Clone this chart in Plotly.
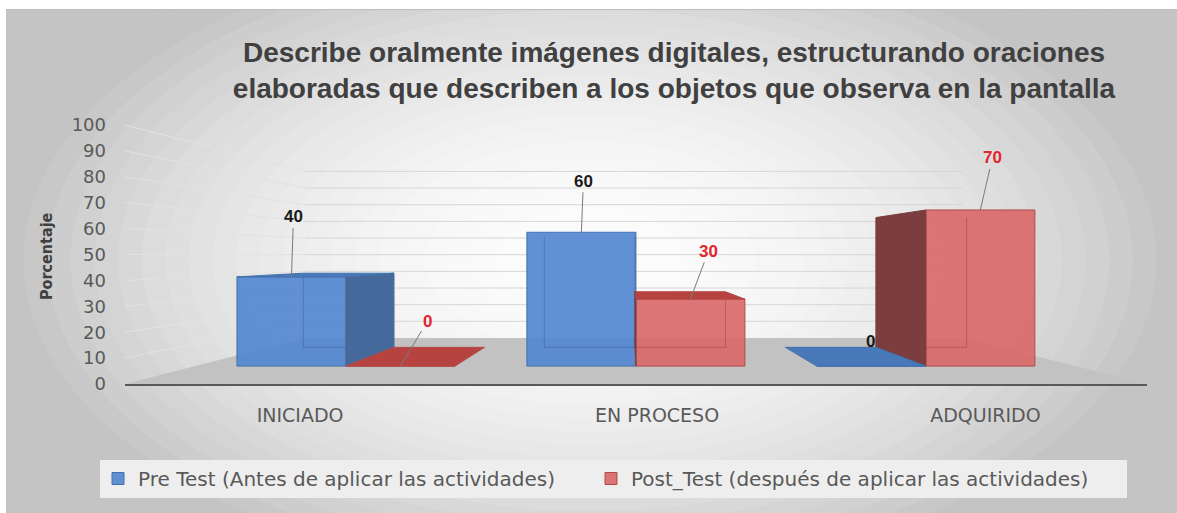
import plotly.graph_objects as go

# ---------------- data ----------------
categories = ["INICIADO", "EN PROCESO", "ADQUIRIDO"]
pre_test = [40, 60, 0]
post_test = [0, 30, 70]
series_names = ["Pre Test (Antes de aplicar las actividades)",
                "Post_Test (después de aplicar las actividades)"]
y_ticks = list(range(0, 101, 10))
title_lines = ["Describe oralmente imágenes digitales, estructurando oraciones",
               "elaboradas que describen a los objetos que observa en la pantalla"]
y_title = "Porcentaje"

# ---------------- geometry / style ----------------
W, H = 1177, 513
ML, MR, MT, MB = 125, 30, 125, 129
PW, PH = W - ML - MR, H - MT - MB
XL, XR = -0.52, 2.515          # front-plane x range (category units)
YB, YT = 0, 100
VP = (0.98, 49.8)              # vanishing point (front-plane coords)
D_BAR = 0.139                  # depth of bar front faces
K_BAR = 0.1687                 # bar depth
D_WALL = 0.3566                # depth of back wall
BAR_W = 0.376
CAT_LABEL_NUDGE = [0.0, 0.06, 0.035]
LEGEND_X_PX = [98, 591]

STY = [
    dict(front="rgba(84,136,208,0.92)", line="#4170ad", side="#45699a",
         top="#4a79b9", back="rgba(35,65,115,0.30)", label="#1a1a1a"),
    dict(front="rgba(217,106,106,0.92)", line="#b24a4a", side="#7b3d3d",
         top="#b6433f", back="rgba(115,35,35,0.30)", label="#e3262b"),
]
LABEL_OFFSETS = [[(2, -60), (2, -51), (-1, -25)],
                 [(27, -45), (18, -48), (12, -52)]]


def px2x(px):
    return (px - ML) / PW


def py2y(py):
    return 1 - (py - MT) / PH


def proj(p, d):
    return (p[0] + d * (VP[0] - p[0]), p[1] + d * (VP[1] - p[1]))


s = 1 - D_BAR
x2_range = [VP[0] + (XL - VP[0]) / s, VP[0] + (XR - VP[0]) / s]
y2_range = [VP[1] + (YB - VP[1]) / s, VP[1] + (YT - VP[1]) / s]

fig = go.Figure()

# ---- floor ----
fl = [proj((XL, 0), 0), proj((XR, 0), 0), proj((XR, 0), D_WALL), proj((XL, 0), D_WALL)]
fig.add_trace(go.Scatter(x=[p[0] for p in fl] + [fl[0][0]], y=[p[1] for p in fl] + [fl[0][1]],
                         fill="toself", fillcolor="#c2c2c2", mode="lines",
                         line=dict(color="#c2c2c2", width=0), hoverinfo="skip", showlegend=False))

# ---- gridlines (left wall + back wall) ----
lx, ly, bx, by = [], [], [], []
for t in y_ticks[1:]:
    a = proj((XL, t), 0)
    b = proj((XL, t), D_WALL)
    c = proj((XR, t), D_WALL)
    lx += [a[0], b[0], None]
    ly += [a[1], b[1], None]
    bx += [b[0], c[0], None]
    by += [b[1], c[1], None]
fig.add_trace(go.Scatter(x=lx, y=ly, mode="lines", line=dict(color="#e2e2e2", width=1),
                         hoverinfo="skip", showlegend=False))
fig.add_trace(go.Scatter(x=bx, y=by, mode="lines", line=dict(color="#d6d6d6", width=1),
                         hoverinfo="skip", showlegend=False))

# ---- bar front faces ----
xs = list(range(len(categories)))
for si, vals in enumerate([pre_test, post_test]):
    fig.add_trace(go.Bar(x=xs, y=vals, name=series_names[si], xaxis="x2", yaxis="y2",
                         offset=-BAR_W if si == 0 else 0.0, width=BAR_W,
                         legend="legend" if si == 0 else "legend2",
                         marker=dict(color=STY[si]["front"],
                                     line=dict(color=STY[si]["line"], width=1)),
                         hoverinfo="skip"))

# ---- box depth faces ----
boxes = []
for si, vals in enumerate([pre_test, post_test]):
    for ci, v in enumerate(vals):
        x0 = ci - BAR_W if si == 0 else ci
        boxes.append((si, ci, x0, x0 + BAR_W, v))
boxes.sort(key=lambda b: -abs((b[2] + b[3]) / 2 - VP[0]))


def poly(pts, color, lcolor):
    fig.add_trace(go.Scatter(x=[p[0] for p in pts] + [pts[0][0]],
                             y=[p[1] for p in pts] + [pts[0][1]],
                             fill="toself", fillcolor=color, mode="lines",
                             line=dict(color=lcolor, width=1), xaxis="x2", yaxis="y2",
                             hoverinfo="skip", showlegend=False))


for si, ci, x0, x1, v in boxes:
    st = STY[si]
    fl0, fr0, fr1, fl1 = (x0, 0), (x1, 0), (x1, v), (x0, v)
    bl0, br0, br1, bl1 = [proj(p, K_BAR) for p in (fl0, fr0, fr1, fl1)]
    if v > 0:
        fig.add_trace(go.Scatter(x=[bl0[0], bl1[0], None, br0[0], br1[0], None, bl0[0], br0[0]],
                                 y=[bl0[1], bl1[1], None, br0[1], br1[1], None, bl0[1], br0[1]],
                                 mode="lines", line=dict(color=st["back"], width=1),
                                 xaxis="x2", yaxis="y2", hoverinfo="skip", showlegend=False))
        if VP[0] > x1:
            poly([fr0, br0, br1, fr1], st["side"], st["side"])
        if VP[0] < x0:
            poly([fl0, bl0, bl1, fl1], st["side"], st["side"])
    if v < VP[1]:
        poly([fl1, fr1, br1, bl1], st["top"], st["line"])

# ---- data labels ----
annotations = []
for si, vals in enumerate([pre_test, post_test]):
    for ci, v in enumerate(vals):
        x0 = ci - BAR_W if si == 0 else ci
        ax, ay = LABEL_OFFSETS[si][ci]
        annotations.append(dict(
            x=x0 + BAR_W / 2, y=v, xref="x2", yref="y2", ax=ax, ay=ay,
            text=f"<b>{v}</b>", showarrow=True, arrowhead=0, arrowwidth=1,
            arrowcolor="#7a7a7a" if not (si == 0 and v == 0) else "rgba(0,0,0,0)",
            standoff=0,
            font=dict(family="Liberation Sans, Arial", size=17, color=STY[si]["label"])))

# y-axis title
annotations.append(dict(x=px2x(46), y=py2y(256), xref="paper", yref="paper",
                        xanchor="center", yanchor="middle",
                        text=f"<b>{y_title}</b>", textangle=-90, showarrow=False,
                        font=dict(family="DejaVu Sans Condensed, Liberation Sans Narrow, Liberation Sans",
                                  size=16, color="#404040")))

# ---- background gradient ----
shapes = []
CX, CY, RX, RY = 590, 260, 590, 330
N = 40
for i in range(N + 1):
    r = 1.6 * (1 - i / N)
    rr = min(r, 1.0)
    c = int(round(252 - 56 * rr ** 2))
    col = f"rgb({c},{c},{c})"
    shapes.append(dict(type="circle", xref="paper", yref="paper", layer="below",
                       x0=px2x(CX - r * RX), x1=px2x(CX + r * RX),
                       y0=py2y(CY + r * RY), y1=py2y(CY - r * RY),
                       fillcolor=col, line=dict(width=0)))
shapes.append(dict(type="rect", xref="paper", yref="paper", layer="below",
                   x0=px2x(-5), x1=px2x(W + 5), y0=py2y(9), y1=py2y(-5),
                   fillcolor="white", line=dict(width=0)))
shapes.append(dict(type="rect", xref="paper", yref="paper", layer="below",
                   x0=px2x(-5), x1=px2x(6), y0=py2y(H + 5), y1=py2y(-5),
                   fillcolor="white", line=dict(width=0)))
shapes.append(dict(type="line", xref="paper", yref="paper", layer="below",
                   x0=px2x(6), x1=px2x(W + 5), y0=py2y(9.5), y1=py2y(9.5),
                   line=dict(color="#bdbdbd", width=1)))
# legend box
shapes.append(dict(type="rect", xref="paper", yref="paper", layer="below",
                   x0=px2x(100), x1=px2x(1127), y0=py2y(498), y1=py2y(460),
                   fillcolor="#eeeeee", line=dict(width=0)))

tick_font = dict(family="DejaVu Sans", size=18, color="#595959")
legend_common = dict(orientation="h", xanchor="left", y=py2y(459), yanchor="top",
                     bgcolor="rgba(0,0,0,0)", borderwidth=0, itemwidth=30,
                     font=dict(family="DejaVu Sans", size=20, color="#595959"))

fig.update_layout(
    width=W, height=H,
    margin=dict(l=ML, r=MR, t=MT, b=MB),
    paper_bgcolor="#c4c4c4", plot_bgcolor="rgba(0,0,0,0)",
    barmode="overlay",
    title=dict(text="<b>" + "<br>".join(title_lines) + "</b>",
               x=674 / W, xref="container", xanchor="center",
               y=1 - 62 / H, yref="container", yanchor="middle",
               font=dict(family="Liberation Sans, Arial", size=28, color="#404040")),
    xaxis=dict(range=[XL, XR], tickvals=[i + n for i, n in zip(xs, CAT_LABEL_NUDGE)],
               ticktext=categories, showgrid=False, zeroline=False,
               showline=True, linecolor="#595959", linewidth=2, ticks="",
               ticklabelstandoff=13,
               tickfont=dict(family="DejaVu Sans", size=19, color="#595959"),
               fixedrange=True),
    yaxis=dict(range=[YB, YT], tickvals=y_ticks, showgrid=False, zeroline=False,
               showline=False, ticks="", ticklabelstandoff=18, tickfont=tick_font,
               fixedrange=True),
    xaxis2=dict(range=x2_range, overlaying="x", anchor="y2", visible=False, fixedrange=True),
    yaxis2=dict(range=y2_range, overlaying="y", anchor="x2", visible=False, fixedrange=True),
    legend=dict(x=px2x(LEGEND_X_PX[0]), **legend_common),
    legend2=dict(x=px2x(LEGEND_X_PX[1]), **legend_common),
    annotations=annotations,
    shapes=shapes,
)

fig.write_html("out.html")
